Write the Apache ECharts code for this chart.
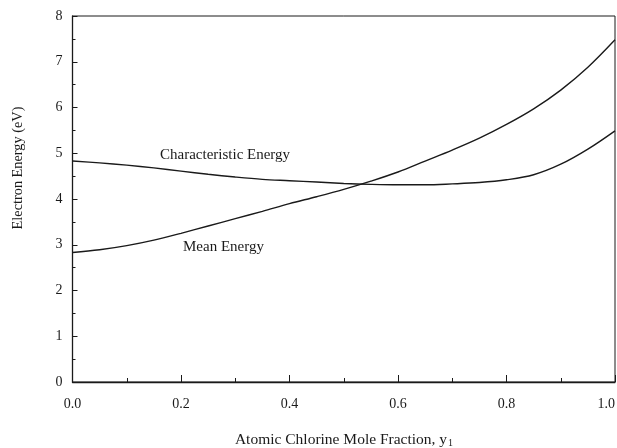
<!DOCTYPE html>
<html>
<head>
<meta charset="utf-8">
<script src="https://cdn.jsdelivr.net/npm/echarts@6/dist/echarts.min.js"></script>
<style>
  html, body { margin: 0; padding: 0; background: #fff; }
  #chart { width: 617px; height: 448px; }
</style>
</head>
<body>
<div id="chart"></div>
<script>
// Atomic chlorine mole fraction (x) and electron energies (eV)
const moleFraction = [0, 0.05, 0.1, 0.15, 0.2, 0.25, 0.3, 0.35, 0.4, 0.45, 0.5,
                      0.55, 0.6, 0.65, 0.7, 0.75, 0.8, 0.85, 0.9, 0.95, 1.0];
const meanEnergy = [2.83, 2.89, 2.98, 3.10, 3.25, 3.41, 3.57, 3.73, 3.90, 4.05, 4.21,
                    4.39, 4.59, 4.83, 5.07, 5.33, 5.63, 5.97, 6.38, 6.88, 7.48];
const characteristicEnergy = [4.83, 4.79, 4.74, 4.68, 4.61, 4.54, 4.48, 4.43, 4.40, 4.37, 4.34,
                              4.32, 4.31, 4.31, 4.33, 4.36, 4.42, 4.53, 4.76, 5.09, 5.49];
const xTicks = [0, 0.2, 0.4, 0.6, 0.8, 1.0];
const yTicks = [0, 1, 2, 3, 4, 5, 6, 7, 8];

const serif = '"Liberation Serif", "DejaVu Serif", serif';
const ink = '#1a1a1a';

const pairs = (ys) => moleFraction.map((x, i) => [x, ys[i]]);

const chart = echarts.init(document.getElementById('chart'), null, { renderer: 'canvas' });
chart.setOption({
  backgroundColor: '#fff',
  animation: false,
  grid: {
    left: 72.5, right: 2, top: 16, bottom: 66,
    outerBoundsMode: 'none', containLabel: false,
    show: true, borderColor: ink, borderWidth: 1
  },
  xAxis: {
    type: 'value',
    min: xTicks[0], max: xTicks[xTicks.length - 1], interval: 0.2,
    axisLine: { lineStyle: { color: ink, width: 1.3 } },
    axisTick: { inside: true, length: 7, lineStyle: { color: ink } },
    minorTick: { show: true, splitNumber: 2, length: 4, lineStyle: { color: ink } },
    splitLine: { show: false },
    axisLabel: {
      color: ink, fontFamily: serif, fontSize: 14, margin: 15,
      alignMaxLabel: 'right',
      formatter: (v) => v.toFixed(1)
    }
  },
  yAxis: {
    type: 'value',
    min: yTicks[0], max: yTicks[yTicks.length - 1], interval: 1,
    axisLine: { lineStyle: { color: ink, width: 1.3 } },
    axisTick: { inside: true, length: 5, lineStyle: { color: ink } },
    minorTick: { show: true, splitNumber: 2, length: 3, lineStyle: { color: ink } },
    splitLine: { show: false },
    axisLabel: { color: ink, fontFamily: serif, fontSize: 14, margin: 10 }
  },
  graphic: [
    {
      type: 'text', x: 344, y: 440,
      style: {
        text: 'Atomic Chlorine Mole Fraction, y{s|1}',
        rich: { s: { fontSize: 10, fontFamily: serif, fill: ink, padding: [7, 0, 0, 1] } },
        font: '15.5px ' + serif, fill: ink, align: 'center', verticalAlign: 'middle'
      }
    },
    {
      type: 'text', x: 18, y: 168, rotation: Math.PI / 2,
      style: {
        text: 'Electron Energy (eV)',
        font: '14.3px ' + serif, fill: ink, align: 'center', verticalAlign: 'middle'
      }
    },
    {
      type: 'text', x: 160, y: 155,
      style: { text: 'Characteristic Energy', font: '15px ' + serif, fill: ink, verticalAlign: 'middle' }
    },
    {
      type: 'text', x: 183, y: 247,
      style: { text: 'Mean Energy', font: '15px ' + serif, fill: ink, verticalAlign: 'middle' }
    }
  ],
  series: [
    {
      name: 'Characteristic Energy', type: 'line',
      data: pairs(characteristicEnergy),
      showSymbol: false, smooth: 0.35,
      lineStyle: { color: ink, width: 1.4 }
    },
    {
      name: 'Mean Energy', type: 'line',
      data: pairs(meanEnergy),
      showSymbol: false, smooth: 0.35,
      lineStyle: { color: ink, width: 1.4 }
    }
  ]
});
</script>
</body>
</html>
